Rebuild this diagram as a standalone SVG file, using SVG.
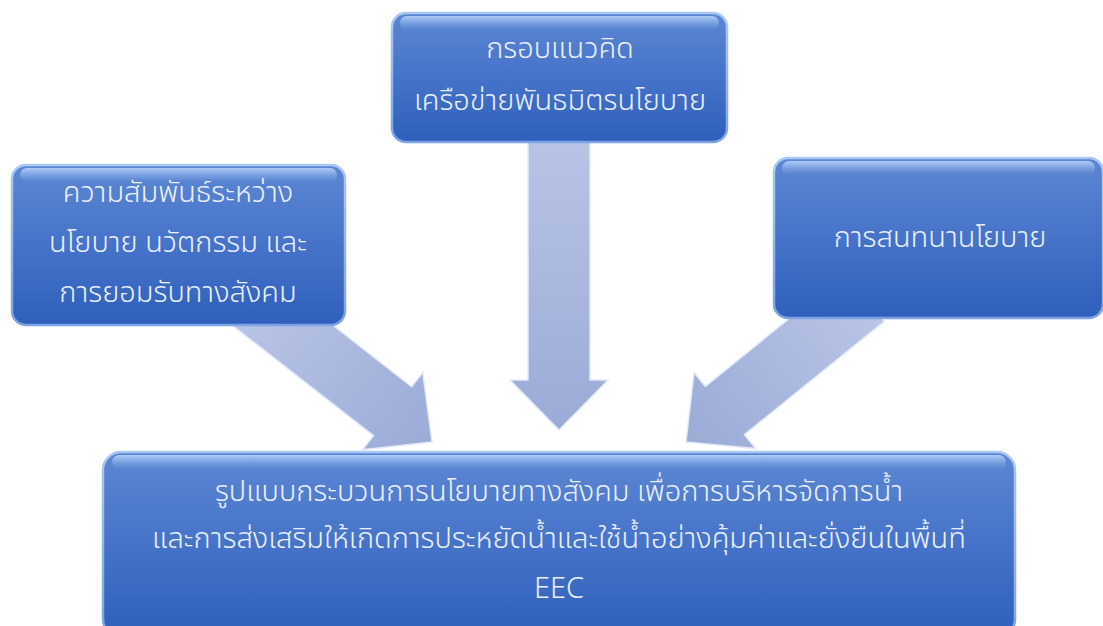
<svg xmlns="http://www.w3.org/2000/svg" width="1103" height="626" viewBox="0 0 1103 626">
<defs>
<linearGradient id="boxFill" x1="0" y1="0" x2="0" y2="1">
<stop offset="0" stop-color="#5d87d3"/>
<stop offset="0.5" stop-color="#4673c9"/>
<stop offset="1" stop-color="#2f5fbc"/>
</linearGradient>
<linearGradient id="boxEdge" x1="0" y1="0" x2="0" y2="1">
<stop offset="0" stop-color="#a9c8f4"/>
<stop offset="1" stop-color="#7da3e6"/>
</linearGradient>
<linearGradient id="topBand" x1="0" y1="0" x2="0" y2="1">
<stop offset="0" stop-color="#b8d4fa" stop-opacity="0.9"/>
<stop offset="1" stop-color="#8fb4ee" stop-opacity="0"/>
</linearGradient>
<linearGradient id="arrowFill" x1="0" y1="0" x2="1" y2="0">
<stop offset="0" stop-color="#b9c5e6"/>
<stop offset="1" stop-color="#9babd7"/>
</linearGradient>
</defs>
<style>
.box{fill:url(#boxFill);stroke:url(#boxEdge);stroke-width:2.5}
.band{fill:url(#topBand)}
.lbl{font-family:"Noto Sans Thai","Leelawadee UI","Noto Sans",sans-serif;font-size:29px;font-weight:300;fill:#eaf0fb;text-anchor:middle}
.arrow{fill:url(#arrowFill);stroke:#e2e9f7;stroke-width:1.5;stroke-linejoin:miter}
</style>
<g id="connectors">
<g transform="translate(432,442) rotate(38)"><path class="arrow" d="M0,0 L-50,-49 L-50,-31 L-230,-31 L-230,31 L-50,31 L-50,49 Z"/></g>
<g transform="translate(559,430) rotate(90)"><path class="arrow" d="M0,0 L-50,-49 L-50,-31 L-300,-31 L-300,31 L-50,31 L-50,49 Z"/></g>
<g transform="translate(686,442) rotate(141)"><path class="arrow" d="M0,0 L-50,-49 L-50,-31 L-230,-31 L-230,31 L-50,31 L-50,49 Z"/></g>
</g>
<g id="node-top">
<rect class="box" x="392" y="13" width="335" height="129" rx="14"/>
<rect class="band" x="400" y="16" width="319" height="14" rx="7"/>
<text class="lbl" x="560" y="58">กรอบแนวคิด</text>
<text class="lbl" x="560" y="110">เครือข่ายพันธมิตรนโยบาย</text>
</g>
<g id="node-left">
<rect class="box" x="12" y="165" width="333" height="160" rx="14"/>
<rect class="band" x="20" y="168" width="317" height="14" rx="7"/>
<text class="lbl" x="178" y="202">ความสัมพันธ์ระหว่าง</text>
<text class="lbl" x="178" y="252">นโยบาย นวัตกรรม และ</text>
<text class="lbl" x="178" y="302">การยอมรับทางสังคม</text>
</g>
<g id="node-right">
<rect class="box" x="774" y="158" width="329" height="160" rx="14"/>
<rect class="band" x="782" y="161" width="313" height="14" rx="7"/>
<text class="lbl" x="940" y="247">การสนทนานโยบาย</text>
</g>
<g id="node-bottom">
<rect class="box" x="103" y="452" width="912" height="185" rx="18"/>
<rect class="band" x="112" y="455" width="894" height="14" rx="7"/>
<text class="lbl" x="559" y="501">รูปแบบกระบวนการนโยบายทางสังคม เพื่อการบริหารจัดการน้ำ</text>
<text class="lbl" x="559" y="548">และการส่งเสริมให้เกิดการประหยัดน้ำและใช้น้ำอย่างคุ้มค่าและยั่งยืนในพื้นที่</text>
<text class="lbl" x="559" y="598">EEC</text>
</g>
</svg>
